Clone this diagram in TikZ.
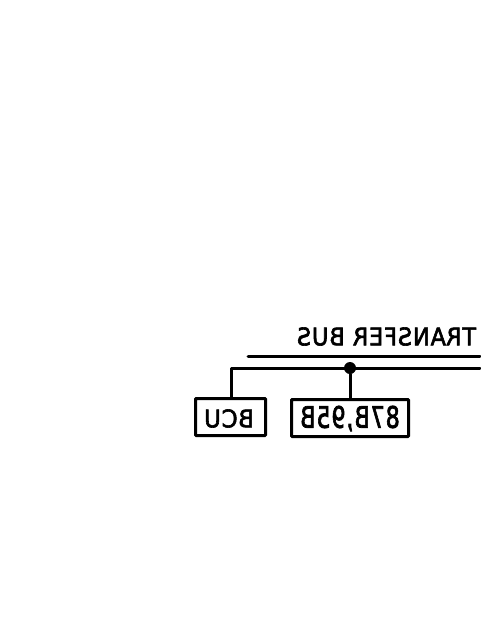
\documentclass[tikz,border=0pt]{standalone}
\usepackage{fontspec}
\setmainfont[FakeBold=2.6,LetterSpace=4]{DejaVu Sans}
\newcommand{\mirtext}[3]{\resizebox{-#1pt}{#2pt}{#3}}
\tikzset{
  wire/.style={line width=3pt,line cap=round,line join=round},
  boxn/.style={draw,line width=3pt,inner sep=0pt,anchor=center,rounded corners=0.8pt},
  lab/.style={inner sep=0pt,anchor=center}
}
\begin{document}
\begin{tikzpicture}[x=1pt,y=-1pt]
\useasboundingbox (0,0) rectangle (480,640);
\node[boxn,minimum width=70pt,minimum height=37pt] (bcu) at (230.5,417) {};
\node[boxn,minimum width=117pt,minimum height=37pt] (b87) at (350,418) {};
\node[lab] (tbcu) at (229,418.5) {\mirtext{48}{18}{BCU}};
\node[lab] (tb87) at (350,418.5) {\mirtext{98}{22}{87B,95B}};
\node[lab] (ttb) at (386.5,336.5) {\mirtext{179}{18}{TRANSFER BUS}};
\coordinate (busa) at (248,356);
\coordinate (busb) at (480,356);
\coordinate (busc) at (480,368);
\coordinate (corner) at (231,368);
\node[circle,fill=black,inner sep=0pt,minimum size=12pt] (dot) at (350,368) {};
\draw[wire] (bcu.north -| corner) -- (corner) -- (busc);
\draw[wire] (busa) -- (busb);
\draw[wire] (dot) -- (dot |- b87.north);
\end{tikzpicture}
\end{document}
